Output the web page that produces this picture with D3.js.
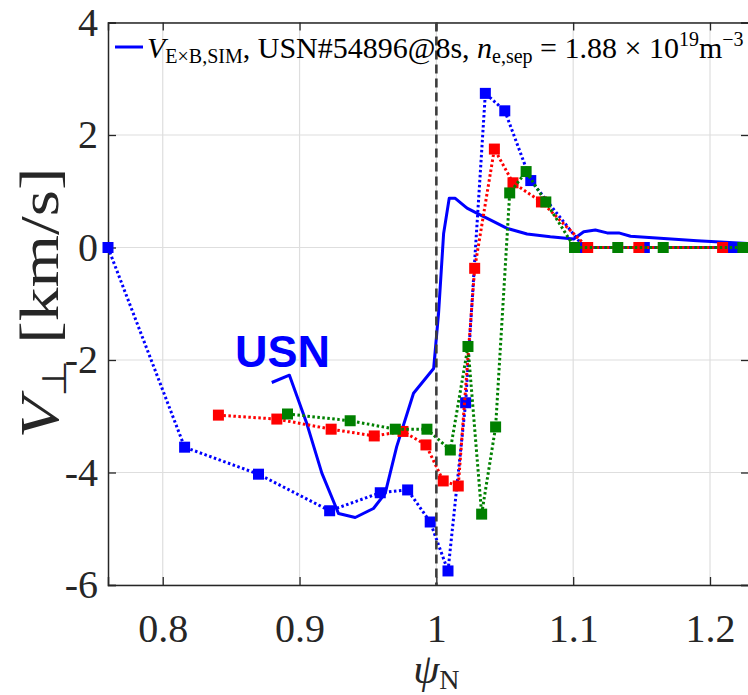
<!DOCTYPE html>
<html>
<head>
<meta charset="utf-8">
<script src="https://cdn.jsdelivr.net/npm/d3@7"></script>
<style>
  html, body { margin: 0; padding: 0; background: #fff; }
  svg { display: block; }
  .tick text { font-family: "Liberation Serif", "Times New Roman", serif; fill: #262626; }
</style>
</head>
<body>
<script>
// ticks
var xTicks = [0.8, 0.9, 1, 1.1, 1.2];
var yTicks = [-6, -4, -2, 0, 2, 4];

// simulated V_ExB (solid line)
var simX = [0.8797, 0.8926, 0.9053, 0.9163, 0.9285, 0.9407, 0.954, 0.9626, 0.971, 0.9833, 0.998, 1.0016, 1.0053, 1.0094, 1.0138, 1.0224, 1.032, 1.0394, 1.0517, 1.0663, 1.0833, 1.1004, 1.1077, 1.1162, 1.1248, 1.1333, 1.1419, 1.1662, 1.1906, 1.2278];
var simY = [-2.40, -2.27, -3.13, -4.01, -4.73, -4.80, -4.64, -4.37, -3.54, -2.59, -2.15, -1.17, 0.25, 0.875, 0.875, 0.70, 0.58, 0.49, 0.34, 0.24, 0.19, 0.15, 0.28, 0.31, 0.26, 0.26, 0.20, 0.16, 0.12, 0.07];

// measured profiles (dotted + squares)
var blueX = [0.76, 0.816, 0.870, 0.922, 0.959, 0.979, 0.9955, 1.0085, 1.0214, 1.0358, 1.050, 1.069, 1.108, 1.152, 1.2167];
var blueY = [0, -3.55, -4.03, -4.68, -4.36, -4.31, -4.88, -5.75, -2.76, 2.74, 2.43, 1.19, 0, 0, 0];

var redX = [0.8407, 0.8834, 0.9231, 0.9546, 0.9756, 0.9924, 1.005, 1.016, 1.028, 1.0424, 1.056, 1.0768, 1.1106, 1.148, 1.2092];
var redY = [-2.98, -3.05, -3.23, -3.35, -3.27, -3.51, -4.15, -4.24, -0.37, 1.75, 1.15, 0.81, 0, 0, 0];

var greenX = [0.8912, 0.937, 0.970, 0.9931, 1.0102, 1.0231, 1.0331, 1.0433, 1.0536, 1.0656, 1.080, 1.101, 1.1326, 1.1658, 1.224];
var greenY = [-2.96, -3.08, -3.23, -3.23, -3.6, -1.76, -4.74, -3.19, 0.97, 1.35, 0.81, 0, 0, 0, 0];

var W = 748, H = 695;
var padL = 108, padR = 749, padT = 22.5, padB = 585;

var x = d3.scaleLinear().domain([0.76, 1.2285]).range([padL, padR]);
var y = d3.scaleLinear().domain([-6, 4]).range([padB, padT]);

var svg = d3.select('body').append('svg')
  .attr('width', W)
  .attr('height', H);

// grid
var grid = svg.append('g');
grid.selectAll('.gx').data(xTicks).enter().append('line')
  .attr('x1', function (d) { return x(d); })
  .attr('x2', function (d) { return x(d); })
  .attr('y1', padT).attr('y2', padB)
  .attr('stroke', '#dedede').attr('stroke-width', 1.2);
grid.selectAll('.gy').data(yTicks).enter().append('line')
  .attr('y1', function (d) { return y(d); })
  .attr('y2', function (d) { return y(d); })
  .attr('x1', padL).attr('x2', padR)
  .attr('stroke', '#dedede').attr('stroke-width', 1.2);

// axes
var xAxis = svg.append('g')
  .attr('transform', 'translate(0,' + padB + ')')
  .call(d3.axisBottom(x).tickValues(xTicks).tickSize(-8).tickPadding(28).tickFormat(d3.format('')));
var xTop = svg.append('g')
  .attr('transform', 'translate(0,' + padT + ')')
  .call(d3.axisTop(x).tickValues(xTicks).tickSize(-8).tickFormat(''));
var yAxis = svg.append('g')
  .attr('transform', 'translate(' + padL + ',0)')
  .call(d3.axisLeft(y).tickValues(yTicks).tickSize(-8).tickPadding(10).tickFormat(d3.format('')));
var yRight = svg.append('g')
  .attr('transform', 'translate(' + padR + ',0)')
  .call(d3.axisRight(y).tickValues(yTicks).tickSize(-8).tickFormat(''));

[xAxis, xTop, yAxis, yRight].forEach(function (a) {
  a.select('.domain').attr('stroke', '#262626').attr('stroke-width', 1.5);
  a.selectAll('.tick line').attr('stroke', '#262626').attr('stroke-width', 1.3);
});
xAxis.selectAll('.tick text').attr('font-size', 40).attr('dy', '0.72em');
yAxis.selectAll('.tick text').attr('font-size', 40);
yAxis.selectAll('.tick text').text(function (d) { return d < 0 ? '-' + Math.abs(d) : d; });

// plot area clip
svg.append('clipPath').attr('id', 'clip').append('rect')
  .attr('x', padL).attr('y', padT).attr('width', padR - padL).attr('height', padB - padT);
var plot = svg.append('g').attr('clip-path', 'url(#clip)');

var line = d3.line()
  .x(function (d) { return x(d[0]); })
  .y(function (d) { return y(d[1]); });

function series(xs, ys, color) {
  var pts = d3.zip(xs, ys);
  var g = svg.append('g');
  g.append('path')
    .datum(pts)
    .attr('d', line)
    .attr('fill', 'none')
    .attr('stroke', color)
    .attr('stroke-width', 3)
    .attr('stroke-dasharray', '2.5,2.5');
  g.selectAll('rect')
    .data(pts)
    .enter()
    .append('rect')
    .attr('x', function (d) { return x(d[0]) - 5.5; })
    .attr('y', function (d) { return y(d[1]) - 5.5; })
    .attr('width', 11)
    .attr('height', 11)
    .attr('fill', color);
}

series(blueX, blueY, '#0000ff');
series(redX, redY, '#ff0000');
series(greenX, greenY, '#008000');

// simulation line
plot.append('path')
  .datum(d3.zip(simX, simY))
  .attr('d', line)
  .attr('fill', 'none')
  .attr('stroke', '#0000ff')
  .attr('stroke-width', 3)
  .attr('stroke-linejoin', 'round');

// separatrix
svg.append('line')
  .attr('x1', x(1)).attr('x2', x(1))
  .attr('y1', padT).attr('y2', padB)
  .attr('stroke', '#3c3c3c')
  .attr('stroke-width', 2.6)
  .attr('stroke-dasharray', '9,5');

// USN annotation
svg.append('text')
  .attr('x', 235)
  .attr('y', 367)
  .attr('font-family', '"Liberation Sans", Arial, sans-serif')
  .attr('font-weight', 'bold')
  .attr('font-size', 45)
  .attr('fill', '#0000ff')
  .text('USN');

// legend
svg.append('line')
  .attr('x1', 115).attr('x2', 143)
  .attr('y1', 47).attr('y2', 47)
  .attr('stroke', '#0000ff').attr('stroke-width', 3);

var leg = svg.append('text')
  .attr('x', 147).attr('y', 58)
  .attr('font-family', '"Liberation Serif", "Times New Roman", serif')
  .attr('font-size', 30)
  .attr('fill', '#000');
leg.append('tspan').attr('font-style', 'italic').text('V');
leg.append('tspan').attr('font-size', 20).attr('dy', 5).text('E×B,SIM');
leg.append('tspan').attr('dy', -5).text(', USN#54896@8s, ');
leg.append('tspan').attr('font-style', 'italic').text('n');
leg.append('tspan').attr('font-size', 20).attr('dy', 5).text('e,sep');
leg.append('tspan').attr('dy', -5).text(' = 1.88 × 10');
leg.append('tspan').attr('font-size', 20).attr('dy', -12).text('19');
leg.append('tspan').attr('dy', 12).text('m');
leg.append('tspan').attr('font-size', 20).attr('dy', -12).text('−3');

// axis labels
var xl = svg.append('text')
  .attr('x', x(1)).attr('y', 683)
  .attr('text-anchor', 'middle')
  .attr('font-family', '"Liberation Serif", "Times New Roman", serif')
  .attr('font-size', 42)
  .attr('fill', '#262626');
xl.append('tspan').attr('font-style', 'italic').text('ψ');
xl.append('tspan').attr('font-size', 28).attr('dy', 6).text('N');

var yl = svg.append('text')
  .attr('transform', 'translate(58,303) rotate(-90) scale(1.25,1)')
  .attr('text-anchor', 'middle')
  .attr('font-family', '"Liberation Serif", "Times New Roman", serif')
  .attr('font-size', 54)
  .attr('fill', '#262626');
yl.append('tspan').attr('font-style', 'italic').text('V');
yl.append('tspan').attr('font-size', 34).attr('dy', 8).text('⊥');
yl.append('tspan').attr('dy', -8).text(' [km/s]');
</script>
</body>
</html>
